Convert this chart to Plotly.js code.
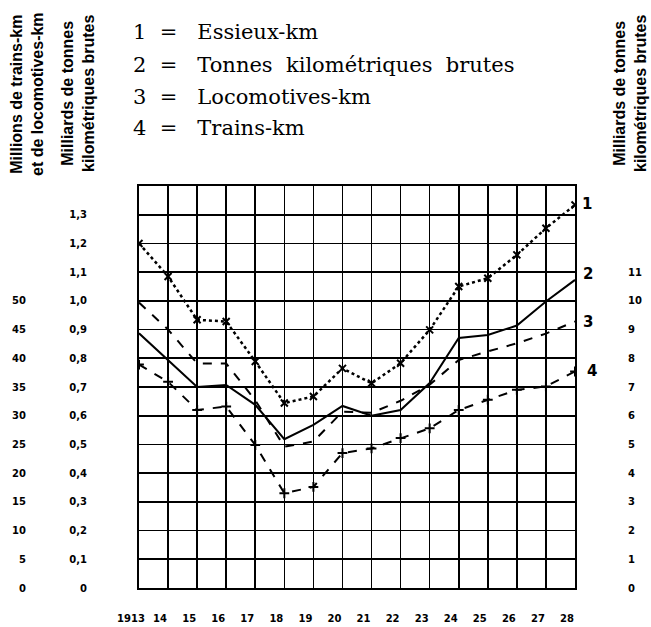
<!DOCTYPE html>
<html><head><meta charset="utf-8">
<script src="https://cdn.plot.ly/plotly-3.0.1.min.js"></script>
<style>html,body{margin:0;padding:0;background:#fff}#chart{width:651px;height:627px}</style>
</head><body><div id="chart"></div>
<script>
// Data
const years = [1913,1914,1915,1916,1917,1918,1919,1920,1921,1922,1923,1924,1925,1926,1927,1928];
const yearLabels = ["1913","14","15","16","17","18","19","20","21","22","23","24","25","26","27","28"];
// 1 = Essieux-km (right scale)
const essieuxKm = [12.0,10.85,9.34,9.28,7.89,6.44,6.67,7.65,7.13,7.83,8.99,10.5,10.79,11.6,12.53,13.34];
// 2 = Tonnes kilométriques brutes (milliards, inner left scale)
const tonnesKm = [0.887,0.794,0.70,0.707,0.638,0.518,0.568,0.634,0.60,0.62,0.714,0.871,0.881,0.914,0.998,1.073];
// 3 = Locomotives-km (millions, outer left scale)
const locomotivesKm = [49.7,45.0,39.1,39.1,32.7,24.6,25.5,30.7,30.5,32.6,35.4,39.7,41.2,42.6,44.3,46.4];
// 4 = Trains-km (millions, outer left scale)
const trainsKm = [38.9,35.9,31.0,31.6,24.9,16.5,17.6,23.5,24.3,26.1,27.8,31.0,32.8,34.5,35.1,37.7];

const leftInnerText = ["0","0,1","0,2","0,3","0,4","0,5","0,6","0,7","0,8","0,9","1,0","1,1","1,2","1,3"];
const leftOuterVals = [0,5,10,15,20,25,30,35,40,45,50];
const rightVals = [0,1,2,3,4,5,6,7,8,9,10,11];

const legendNums = ["1","2","3","4"];
const legendNames = ["Essieux-km","Tonnes&nbsp; kilométriques&nbsp; brutes","Locomotives-km","Trains-km"];
const endLabels = ["1","2","3","4"];

const tickFont = {family:"DejaVu Sans", size:10, color:"#000", weight:"bold"};
const titleFont = {family:"Liberation Sans Narrow, Liberation Sans", size:16, color:"#000", weight:"bold"};

const traces = [
  {x:years, y:essieuxKm, yaxis:"y3", mode:"lines+markers", line:{color:"#000", width:2.5, dash:"dot"},
   marker:{symbol:"x-thin", size:7, line:{color:"#000", width:2}}},
  {x:years, y:tonnesKm, yaxis:"y", mode:"lines", line:{color:"#000", width:2}},
  {x:years, y:locomotivesKm, yaxis:"y2", mode:"lines", line:{color:"#000", width:2, dash:"dash"}},
  {x:years, y:trainsKm, yaxis:"y2", mode:"lines+markers", line:{color:"#000", width:2, dash:"dash"},
   marker:{symbol:"cross-thin", size:7, line:{color:"#000", width:2}}}
];

const annotations = [];
const legendY = [154, 121, 89, 58];
legendNums.forEach((n,i)=>{
  annotations.push({xref:"paper", yref:"paper", x:0, y:1, xanchor:"left", yanchor:"middle",
    xshift:-8, yshift:legendY[i], text:n + " &nbsp;= &nbsp;&nbsp;" + legendNames[i], showarrow:false,
    font:{family:"DejaVu Serif", size:21, color:"#000"}});
});
// axis titles
annotations.push({xref:"paper", yref:"paper", x:0, y:1, xanchor:"center", yanchor:"middle", xshift:-112, yshift:92,
  text:"Millions de trains-km<br>et de locomotives-km", textangle:-90, showarrow:false, font:titleFont, align:"center"});
annotations.push({xref:"paper", yref:"paper", x:0, y:1, xanchor:"center", yanchor:"middle", xshift:-61, yshift:92,
  text:"Milliards de tonnes<br>kilométriques brutes", textangle:-90, showarrow:false, font:titleFont, align:"center"});
annotations.push({xref:"paper", yref:"paper", x:1, y:1, xanchor:"center", yanchor:"middle", xshift:55, yshift:92,
  text:"Milliards de tonnes<br>kilométriques brutes", textangle:-90, showarrow:false, font:titleFont, align:"center"});
// end labels
const endY = [essieuxKm[15]/10, tonnesKm[15], locomotivesKm[15]/50, trainsKm[15]/50];
const endShift = [[12,1],[13,6],[13,0],[17,0]];
endLabels.forEach((t,i)=>{
  annotations.push({xref:"x", yref:"y", x:years[15], y:endY[i], text:t, showarrow:false,
    xshift:endShift[i][0], yshift:endShift[i][1], font:{family:"DejaVu Sans", size:15, color:"#000", weight:"bold"}});
});

const layout = {
  width:651, height:627, margin:{l:139, r:76, t:186, b:39},
  paper_bgcolor:"#fff", plot_bgcolor:"#fff", showlegend:false,
  xaxis:{range:[1913,1928], tickvals:years, ticktext:yearLabels, showgrid:true, gridcolor:"#000", gridwidth:1.6,
    zeroline:false, showline:true, linecolor:"#000", linewidth:2, mirror:true, ticks:"",
    tickfont:tickFont, ticklabelstandoff:20, ticklabelshift:-8, fixedrange:true},
  yaxis:{range:[0,1.4], tickvals:[0,0.1,0.2,0.3,0.4,0.5,0.6,0.7,0.8,0.9,1.0,1.1,1.2,1.3,1.4],
    ticktext:leftInnerText.concat([""]), showgrid:true, gridcolor:"#000", gridwidth:1.6,
    zeroline:false, showline:true, linecolor:"#000", linewidth:2, mirror:true, ticks:"",
    tickfont:tickFont, ticklabelstandoff:48},
  yaxis2:{range:[0,70], overlaying:"y", side:"left", tickvals:leftOuterVals, showgrid:false, zeroline:false,
    showline:false, ticks:"", tickfont:tickFont, ticklabelstandoff:112},
  yaxis3:{range:[0,14], overlaying:"y", side:"right", tickvals:rightVals, showgrid:false, zeroline:false,
    showline:false, ticks:"", tickfont:tickFont, ticklabelstandoff:52},
  annotations:annotations
};
Plotly.newPlot("chart", traces, layout, {staticPlot:true});
</script></body></html>
